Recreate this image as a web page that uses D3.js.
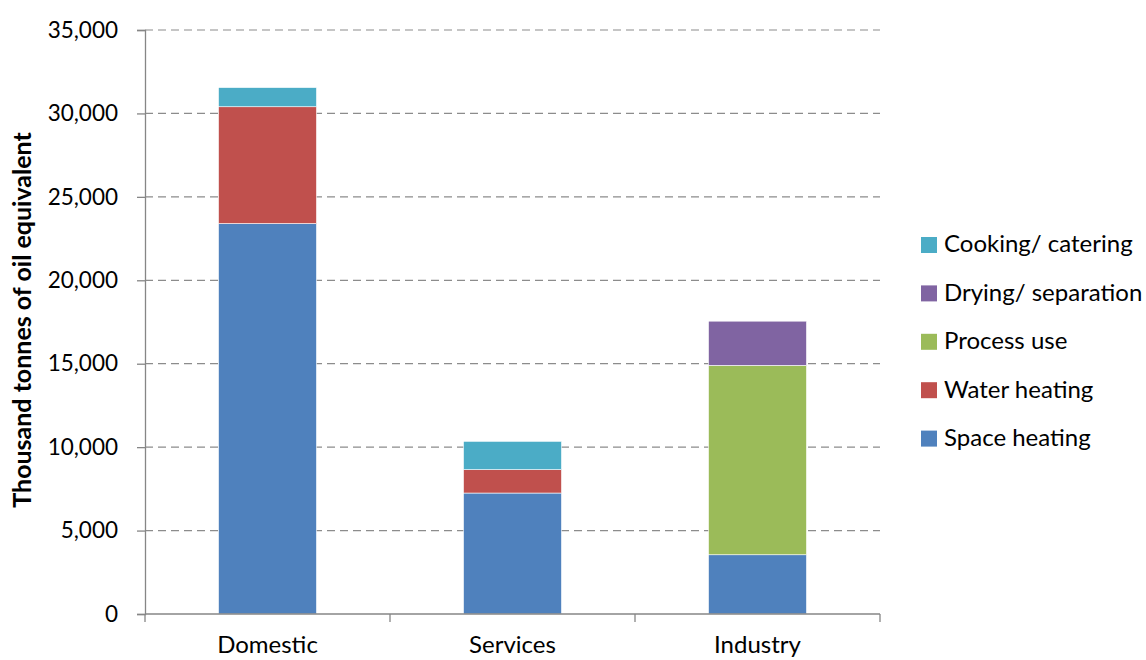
<!DOCTYPE html>
<html>
<head>
<meta charset="utf-8">
<script src="https://cdn.jsdelivr.net/npm/d3@7"></script>
<style>
  body { margin: 0; background: #fff; }
  svg text { font-family: Lato, "Open Sans", sans-serif; fill: #000; }
</style>
</head>
<body>
<div id="chart"></div>
<script>
// Categories and series (thousand tonnes of oil equivalent)
const categories = ["Domestic", "Services", "Industry"];
const seriesNames = ["Space heating", "Water heating", "Process use", "Drying/ separation", "Cooking/ catering"];
const spaceHeating = [23400, 7250, 3550];
const waterHeating = [7000, 1400, 0];
const processUse = [0, 0, 11350];
const dryingSeparation = [0, 0, 2650];
const cookingCatering = [1150, 1700, 0];
const seriesColors = ["#4f81bd", "#c0504d", "#9bbb59", "#8064a2", "#4bacc6"];
const yTicks = [0, 5000, 10000, 15000, 20000, 25000, 30000, 35000];

const width = 1146, height = 660;
const margin = { top: 30, left: 145, right: 266, bottom: 46 };
const plotW = 880 - margin.left;
const plotH = 614 - margin.top;

const svg = d3.select('#chart').append('svg')
    .attr('width', width)
    .attr('height', height);

const g = svg.append('g').attr('transform', `translate(${margin.left},${margin.top})`);

// build rows for the stack
const valuesBySeries = [spaceHeating, waterHeating, processUse, dryingSeparation, cookingCatering];
const rows = categories.map((c, i) => {
    const r = { category: c };
    seriesNames.forEach((s, k) => { r[s] = valuesBySeries[k][i]; });
    return r;
});
const stacked = d3.stack().keys(seriesNames)(rows);

const x = d3.scaleBand().domain(categories).range([0, plotW]).paddingInner(0.6).paddingOuter(0.3);
const y = d3.scaleLinear().domain([0, 35000]).range([plotH, 0]);
const color = d3.scaleOrdinal().domain(seriesNames).range(seriesColors);

// gridlines
g.append('g')
    .selectAll('line')
    .data(yTicks.filter(t => t > 0))
    .join('line')
    .attr('x1', 0)
    .attr('x2', plotW)
    .attr('y1', d => y(d))
    .attr('y2', d => y(d))
    .attr('stroke', '#8c8c8c')
    .attr('stroke-width', 1.2)
    .attr('stroke-dasharray', '8,5');

// bars
g.append('g')
    .selectAll('g')
    .data(stacked)
    .join('g')
    .attr('fill', d => color(d.key))
    .selectAll('rect')
    .data(d => d.filter(p => p[1] - p[0] > 0))
    .join('rect')
    .attr('x', d => x(d.data.category))
    .attr('width', x.bandwidth())
    .attr('y', d => y(d[1]))
    .attr('height', d => y(d[0]) - y(d[1]))
    .attr('stroke', '#fff')
    .attr('stroke-width', 0.6);

// y axis
const yAxis = g.append('g')
    .call(d3.axisLeft(y).tickValues(yTicks).tickSize(8).tickPadding(19).tickFormat(d3.format(',')));
yAxis.selectAll('path, line').attr('stroke', '#868686').attr('stroke-width', 1.3);
yAxis.selectAll('text').attr('font-size', 22.5).attr('font-family', 'Lato, sans-serif').attr('fill', '#000');

// x axis with ticks between categories
const xAxisG = g.append('g').attr('transform', `translate(0,${plotH})`);
xAxisG.append('line')
    .attr('x1', 0).attr('x2', plotW)
    .attr('stroke', '#868686').attr('stroke-width', 1.3);
const step = plotW / categories.length;
xAxisG.selectAll('.xtick')
    .data(d3.range(categories.length + 1))
    .join('line')
    .attr('class', 'xtick')
    .attr('x1', d => d * step).attr('x2', d => d * step)
    .attr('y1', 0).attr('y2', 8)
    .attr('stroke', '#868686').attr('stroke-width', 1.3);
xAxisG.selectAll('.xlabel')
    .data(categories)
    .join('text')
    .attr('class', 'xlabel')
    .attr('x', d => x(d) + x.bandwidth() / 2)
    .attr('y', 39)
    .attr('text-anchor', 'middle')
    .attr('font-size', 24)
    .text(d => d);

// y axis title
svg.append('text')
    .attr('transform', `translate(31,320) rotate(-90)`)
    .attr('text-anchor', 'middle')
    .attr('font-size', 25)
    .attr('font-weight', 'bold')
    .text('Thousand tonnes of oil equivalent');

// legend (reverse order, top is Cooking)
const legendItems = seriesNames.slice().reverse();
const legend = svg.append('g').attr('transform', 'translate(921,244)');
const li = legend.selectAll('g')
    .data(legendItems)
    .join('g')
    .attr('transform', (d, i) => `translate(0,${i * 48.4})`);
li.append('rect')
    .attr('x', 0).attr('y', -7)
    .attr('width', 16).attr('height', 16)
    .attr('fill', d => color(d));
li.append('text')
    .attr('x', 23)
    .attr('y', 0)
    .attr('dy', '0.35em')
    .attr('font-size', 24)
    .text(d => d);
</script>
</body>
</html>
